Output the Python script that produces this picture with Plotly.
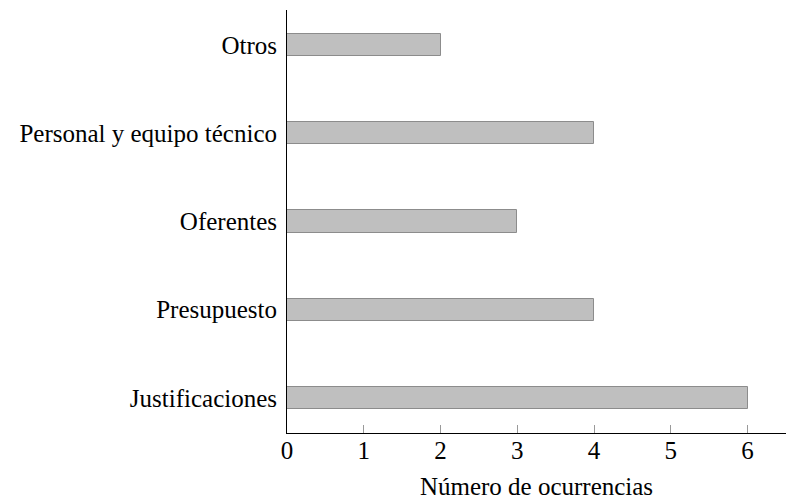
import plotly.graph_objects as go

categories = ["Justificaciones", "Presupuesto", "Oferentes", "Personal y equipo técnico", "Otros"]
values = [6, 4, 3, 4, 2]
x_ticks = [0, 1, 2, 3, 4, 5, 6]

fig = go.Figure(go.Bar(
    y=categories, x=values, orientation="h", width=0.25,
    marker=dict(color="#bfbfbf", line=dict(color="#8c8c8c", width=1)),
))

font = dict(family="Liberation Serif", size=25, color="black")
fig.update_layout(
    width=786, height=500,
    margin=dict(l=287, r=0, t=10, b=67, autoexpand=False),
    plot_bgcolor="white", paper_bgcolor="white",
    font=font, showlegend=False,
    bargap=0,
)
fig.update_xaxes(
    range=[0, 6.5], tickvals=x_ticks, ticks="inside", ticklen=8, tickcolor="#999999",
    showline=True, linecolor="black", linewidth=1, showgrid=False, zeroline=False,
    title=dict(text="Número de ocurrencias", standoff=14, font=font),
    tickfont=font, automargin=False, ticklabelstandoff=-5,
)
fig.update_yaxes(
    range=[-0.4, 4.4], showline=True, linecolor="black", linewidth=1,
    showgrid=False, zeroline=False, ticks="", ticklabelstandoff=4, tickfont=font,
    automargin=False,
)
fig.write_html("out.html", config={"displayModeBar": False},
               post_script="document.body.style.margin='0';")
